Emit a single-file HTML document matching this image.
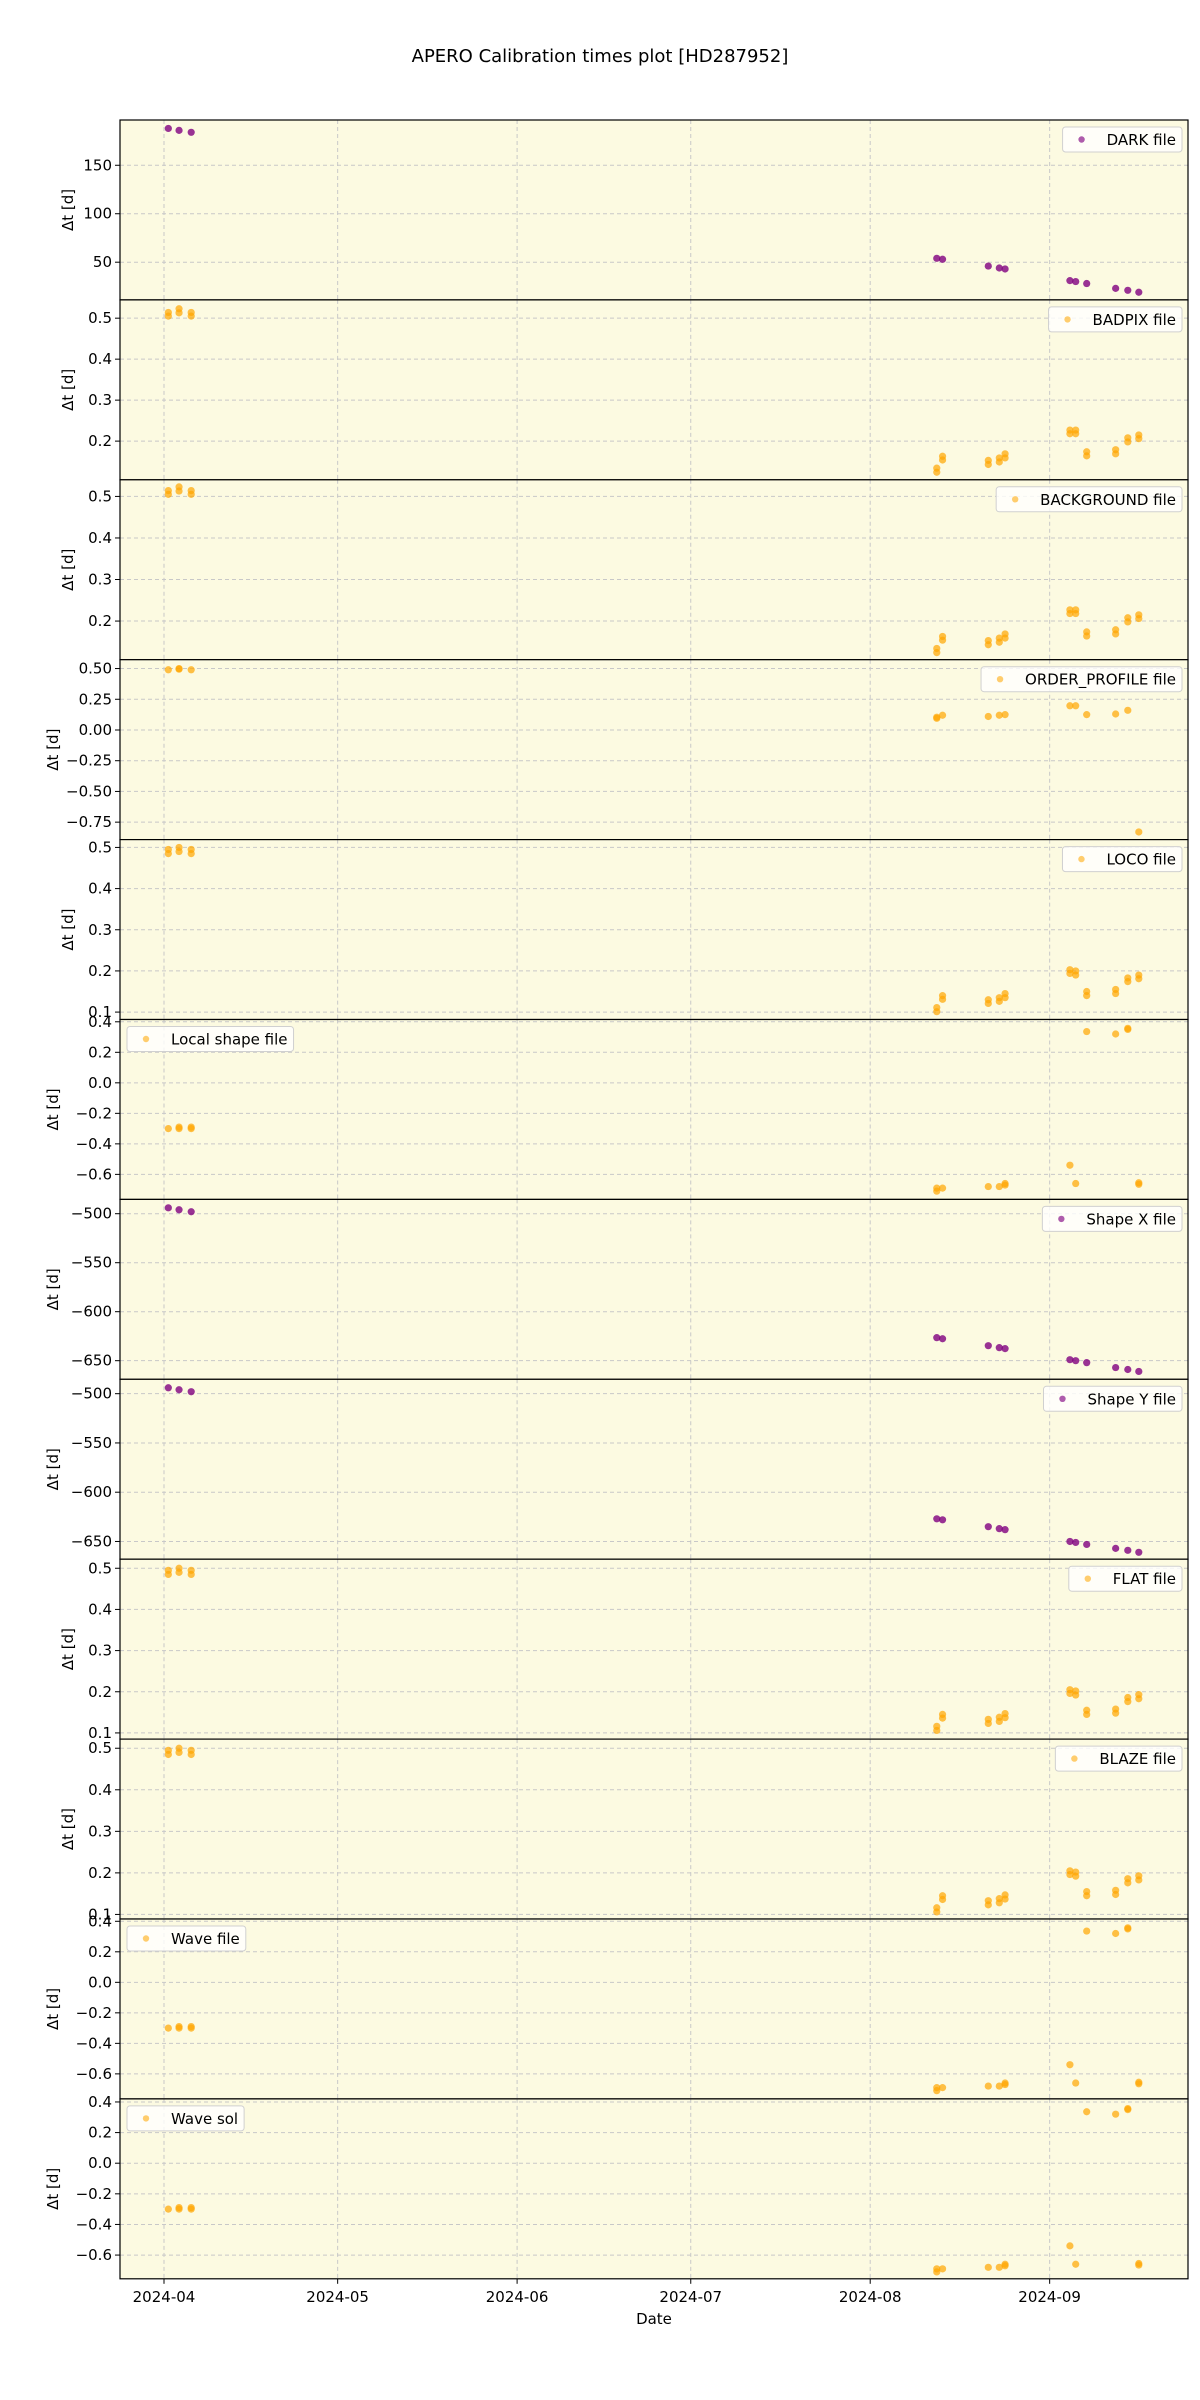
<!DOCTYPE html>
<html><head><meta charset="utf-8"><style>
html,body{margin:0;padding:0;background:#fff;}
svg{display:block;font-family:"DejaVu Sans","Liberation Sans",sans-serif;}
</style></head><body>
<svg id="chart" width="1200" height="2400" viewBox="0 0 1200 2400" xmlns="http://www.w3.org/2000/svg">
<text x="600" y="62" text-anchor="middle" font-size="18" fill="#000">APERO Calibration times plot [HD287952]</text>
</svg>
<script>
// Days since 2024-04-01 for each observation
const dates = [0.75, 2.6, 4.7, 133.5, 134.5, 142.4, 144.3, 145.3, 156.5, 157.5, 159.4, 164.4, 166.5, 168.4];
const xTickLabels = ["2024-04", "2024-05", "2024-06", "2024-07", "2024-08", "2024-09"];
const xTickDays = [0, 30, 61, 91, 122, 153];

const darkLo = [188, 186, 184, 54, 53, 46, 44, 43, 31, 30, 28, 23, 21, 19];
const darkHi = [188, 186, 184, 54, 53, 46, 44, 43, 31, 30, 28, 23, 21, 19];
const badpixLo = [0.505, 0.513, 0.505, 0.124, 0.154, 0.143, 0.149, 0.159, 0.218, 0.218, 0.164, 0.169, 0.198, 0.206];
const badpixHi = [0.514, 0.523, 0.514, 0.134, 0.163, 0.153, 0.159, 0.169, 0.227, 0.227, 0.174, 0.179, 0.208, 0.215];
const bgLo = [0.505, 0.513, 0.505, 0.124, 0.154, 0.143, 0.149, 0.159, 0.218, 0.218, 0.164, 0.169, 0.198, 0.206];
const bgHi = [0.514, 0.523, 0.514, 0.134, 0.163, 0.153, 0.159, 0.169, 0.227, 0.227, 0.174, 0.179, 0.208, 0.215];
const opLo = [0.49, 0.495, 0.49, 0.095, 0.12, 0.11, 0.12, 0.125, 0.197, 0.197, 0.125, 0.13, 0.16, -0.83];
const opHi = [0.49, 0.5, 0.49, 0.104, 0.12, 0.11, 0.12, 0.125, 0.197, 0.197, 0.125, 0.13, 0.16, -0.83];
const locoLo = [0.485, 0.49, 0.485, 0.101, 0.131, 0.121, 0.126, 0.135, 0.194, 0.19, 0.14, 0.145, 0.174, 0.181];
const locoHi = [0.495, 0.5, 0.495, 0.111, 0.14, 0.13, 0.135, 0.145, 0.203, 0.2, 0.15, 0.155, 0.183, 0.19];
const lshapeLo = [-0.30, -0.30, -0.30, -0.71, -0.69, -0.68, -0.68, -0.67, -0.54, -0.66, 0.336, 0.32, 0.35, -0.665];
const lshapeHi = [-0.30, -0.29, -0.29, -0.69, -0.69, -0.68, -0.68, -0.66, -0.54, -0.66, 0.336, 0.32, 0.357, -0.655];
const shapeXLo = [-494, -496, -498, -626.5, -627.6, -634.7, -636.7, -637.7, -649, -650, -652, -657, -659, -661];
const shapeXHi = [-494, -496, -498, -626.5, -627.6, -634.7, -636.7, -637.7, -649, -650, -652, -657, -659, -661];
const shapeYLo = [-494, -496, -498, -627, -628, -635, -637, -638, -650, -651, -653, -657, -659, -661];
const shapeYHi = [-494, -496, -498, -627, -628, -635, -637, -638, -650, -651, -653, -657, -659, -661];
const flatLo = [0.485, 0.49, 0.485, 0.106, 0.136, 0.123, 0.128, 0.137, 0.196, 0.192, 0.145, 0.148, 0.176, 0.183];
const flatHi = [0.495, 0.5, 0.495, 0.116, 0.145, 0.133, 0.138, 0.147, 0.205, 0.202, 0.155, 0.158, 0.186, 0.193];
const blazeLo = [0.485, 0.49, 0.485, 0.106, 0.136, 0.123, 0.128, 0.137, 0.196, 0.192, 0.145, 0.148, 0.176, 0.183];
const blazeHi = [0.495, 0.5, 0.495, 0.116, 0.145, 0.133, 0.138, 0.147, 0.205, 0.202, 0.155, 0.158, 0.186, 0.193];
const waveLo = [-0.30, -0.30, -0.30, -0.71, -0.69, -0.68, -0.68, -0.67, -0.54, -0.66, 0.336, 0.32, 0.35, -0.665];
const waveHi = [-0.30, -0.29, -0.29, -0.69, -0.69, -0.68, -0.68, -0.66, -0.54, -0.66, 0.336, 0.32, 0.357, -0.655];
const wsolLo = [-0.30, -0.30, -0.30, -0.71, -0.69, -0.68, -0.68, -0.67, -0.54, -0.66, 0.336, 0.32, 0.35, -0.665];
const wsolHi = [-0.30, -0.29, -0.29, -0.69, -0.69, -0.68, -0.68, -0.66, -0.54, -0.66, 0.336, 0.32, 0.357, -0.655];

const panelLabels = ["DARK file","BADPIX file","BACKGROUND file","ORDER_PROFILE file","LOCO file","Local shape file","Shape X file","Shape Y file","FLAT file","BLAZE file","Wave file","Wave sol"];
const panelMin = [11.1, 0.1056, 0.107, -0.892, 0.082, -0.764, -669, -668, 0.085, 0.089, -0.764, -0.755];
const panelMax = [196.7, 0.5446, 0.54, 0.572, 0.519, 0.415, -485.4, -485.4, 0.522, 0.522, 0.415, 0.42];
const panelTicks = [
  [50,100,150],[0.2,0.3,0.4,0.5],[0.2,0.3,0.4,0.5],[-0.75,-0.5,-0.25,0,0.25,0.5],
  [0.1,0.2,0.3,0.4,0.5],[-0.6,-0.4,-0.2,0,0.2,0.4],[-650,-600,-550,-500],[-650,-600,-550,-500],
  [0.1,0.2,0.3,0.4,0.5],[0.1,0.2,0.3,0.4,0.5],[-0.6,-0.4,-0.2,0,0.2,0.4],[-0.6,-0.4,-0.2,0,0.2,0.4]];
const tickDecimals = [0,1,1,2,1,1,0,0,1,1,1,1];
const seriesLo = [darkLo,badpixLo,bgLo,opLo,locoLo,lshapeLo,shapeXLo,shapeYLo,flatLo,blazeLo,waveLo,wsolLo];
const seriesHi = [darkHi,badpixHi,bgHi,opHi,locoHi,lshapeHi,shapeXHi,shapeYHi,flatHi,blazeHi,waveHi,wsolHi];
const purplePanels = [0,6,7];
const leftLegend = [5,10,11];

const NS = "http://www.w3.org/2000/svg";
const svg = document.getElementById("chart");
const L = 120, R = 1188, T0 = 120, PH = 179.9;
const dayMin = -7.6, dayMax = 176.9;
function xScale(d){ return L + (d - dayMin) / (dayMax - dayMin) * (R - L); }
function mk(tag, attrs, parent){ const e = document.createElementNS(NS, tag); for (const k in attrs) e.setAttribute(k, attrs[k]); (parent||svg).appendChild(e); return e; }
function fmt(v, d){ let s = v.toFixed(d); if (v < 0) s = "\u2212" + s.slice(1); return s; }

for (let p = 0; p < 12; p++) {
  const top = T0 + p * PH, bot = top + PH;
  const yScale = v => bot - (v - panelMin[p]) / (panelMax[p] - panelMin[p]) * PH;
  const g = mk("g", {});
  
  
  const bg = mk("rect", {x:L, y:top, width:R-L, height:PH, fill:"#fcfae1"}, g);
  
  
  xTickDays.forEach(d => {
    const gl = mk("line", {x1:xScale(d), x2:xScale(d), y1:top, y2:bot, stroke:"#c8c8c8", "stroke-width":1, "stroke-dasharray":"4,3"}, g);
    
    
  });
  panelTicks[p].forEach(v => {
    const y = yScale(v);
    const gl = mk("line", {x1:L, x2:R, y1:y, y2:y, stroke:"#c8c8c8", "stroke-width":1, "stroke-dasharray":"4,3"}, g);
    
    
    mk("line", {x1:L-5, x2:L, y1:y, y2:y, stroke:"#000", "stroke-width":1}, g);
    const t = mk("text", {x:L-8, y:y+5, "text-anchor":"end", "font-size":15, fill:"#000"}, g);
    t.textContent = fmt(v, tickDecimals[p]);
    
    
  });
  const yl = mk("text", {x:0, y:0, "text-anchor":"middle", "font-size":15, fill:"#000", transform:"translate(" + (p===3||p===5||p===6||p===7||p===10||p===11 ? 58 : 73) + "," + (top+PH/2) + ") rotate(-90)"}, g);
  yl.textContent = "\u0394t [d]";
  
  
  const purple = purplePanels.includes(p);
  const col = purple ? "#800080" : "#ffa500";
  const op = purple ? 0.8 : 0.7;
  dates.forEach((d, i) => {
    const vals = seriesLo[p][i] === seriesHi[p][i] ? [seriesLo[p][i]] : [seriesLo[p][i], seriesHi[p][i]];
    vals.forEach(v => {
      const c = mk("circle", {cx:xScale(d), cy:yScale(v), r:3.6, fill:col, "fill-opacity":op}, g);
      
      
    });
  });
  const fr = mk("rect", {x:L, y:top, width:R-L, height:PH, fill:"none", stroke:"#000", "stroke-width":1.2}, g);
  
  
  // legend
  const label = panelLabels[p];
  const lg = mk("g", {}, g);
  
  
  const box = mk("rect", {y:top+7, height:25, rx:3, fill:"#fff", "fill-opacity":0.8, stroke:"#d0d0d0"}, lg);
  const dot = mk("circle", {cy:top+19.5, r:3.2, fill:col, "fill-opacity":op*0.8}, lg);
  const lt = mk("text", {y:top+25, "font-size":15, fill:"#000"}, lg);
  lt.textContent = label;
  
  
  let tw = label.length * 8.3;
  try { const m = lt.getComputedTextLength(); if (m > 0) tw = m; } catch(e) {}
  const w = tw + 50;
  const lx = leftLegend.includes(p) ? L + 7 : R - 6 - w;
  box.setAttribute("x", lx); box.setAttribute("width", w);
  dot.setAttribute("cx", lx + 19);
  lt.setAttribute("x", lx + 44);
}
const bottom = T0 + 12 * PH;
xTickDays.forEach((d, i) => {
  const x = xScale(d);
  mk("line", {x1:x, x2:x, y1:bottom, y2:bottom+5, stroke:"#000", "stroke-width":1});
  const t = mk("text", {x:x, y:bottom+23, "text-anchor":"middle", "font-size":15, fill:"#000"});
  t.textContent = xTickLabels[i];
  
  
});
const xt = mk("text", {x:(L+R)/2, y:bottom+45, "text-anchor":"middle", "font-size":15, fill:"#000"});
xt.textContent = "Date";


</script>
</body></html>
